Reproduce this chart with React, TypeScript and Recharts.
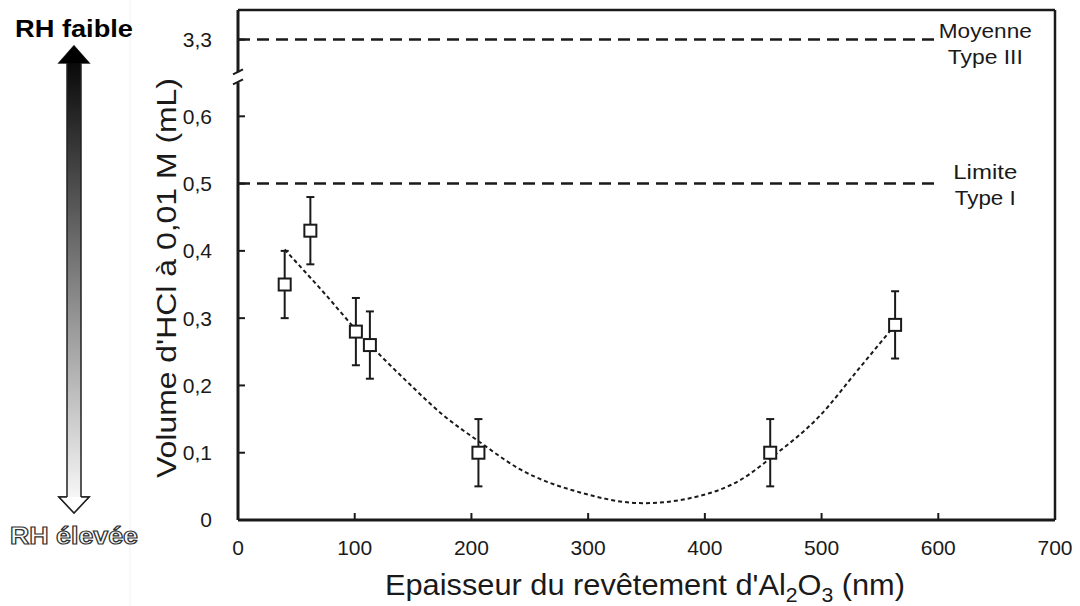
import React from 'react';
import { ComposedChart, Scatter, Line, XAxis, YAxis, ErrorBar, ReferenceLine, ReferenceDot } from 'recharts';

// mesures (épaisseur en nm, volume HCl en mL)
const thickness = [40, 62, 101, 113, 206, 456, 563];
const volume = [0.35, 0.43, 0.28, 0.26, 0.1, 0.1, 0.29];
const volumeErr = [0.05, 0.05, 0.05, 0.05, 0.05, 0.05, 0.05];

// courbe de tendance
const fitX = [40, 75, 101, 147, 175, 207, 241, 293, 347, 396, 430, 457, 498, 533, 563];
const fitY = [0.402, 0.335, 0.283, 0.202, 0.157, 0.116, 0.076, 0.041, 0.025, 0.036, 0.059, 0.093, 0.154, 0.227, 0.29];

const xTicks = [0, 100, 200, 300, 400, 500, 600, 700];
const yTicks = [0, 0.1, 0.2, 0.3, 0.4, 0.5, 0.6, 3.3];

const limitType1 = 0.5;
const meanType3 = 3.3;
const refEndX = 600;

// axe brisé : tout ce qui dépasse 0,6 est ramené dans la case au-dessus de la cassure
const BREAK_SLOT = 0.714;
const BREAK_AT = 0.658;
const Y_MAX = 0.758;
const toAxis = (v: number) => (v > 1 ? BREAK_SLOT : v);

const points = thickness.map((x, i) => ({ x, y: volume[i], err: volumeErr[i] }));
const fit = fitX.map((x, i) => ({ x, y: fitY[i] }));

const FONT = '"Liberation Sans", Arial, sans-serif';
const INK = '#1a1a1a';

const fmt = (v: number) => {
  if (v === BREAK_SLOT) return '3,3';
  if (v === 0) return '0';
  return v.toFixed(1).replace('.', ',');
};

const Square = (props: any) => {
  const { cx, cy } = props;
  return <rect x={cx - 6} y={cy - 6} width={12} height={12} fill="#fff" stroke={INK} strokeWidth={2} />;
};

const BreakMark = (props: any) => {
  const { cx, cy } = props;
  return (
    <g>
      <rect x={cx - 6} y={cy - 5} width={12} height={10} fill="#fff" />
      <line x1={cx - 5} y1={cy - 3} x2={cx + 5} y2={cy - 8} stroke={INK} strokeWidth={2} />
      <line x1={cx - 5} y1={cy + 7} x2={cx + 5} y2={cy + 2} stroke={INK} strokeWidth={2} />
    </g>
  );
};

// étiquette à deux lignes à droite des lignes pointillées
const sideLabel = (l1: string, w1: number, l2: string, w2: number, dy: number) => (p: any) => {
  const vb = p.viewBox || {};
  const cx = vb.x + vb.width + 47;
  const y = vb.y + dy;
  return (
    <g fontFamily={FONT} fontSize={20} fill={INK} textAnchor="middle">
      <text x={cx} y={y} textLength={w1} lengthAdjust="spacingAndGlyphs">{l1}</text>
      <text x={cx} y={y + 26} textLength={w2} lengthAdjust="spacingAndGlyphs">{l2}</text>
    </g>
  );
};

const YTitle = () => {
  const cy = 278;
  const cx = 176;
  return (
    <text
      x={cx}
      y={cy}
      transform={`rotate(-90 ${cx} ${cy})`}
      textAnchor="middle"
      fontFamily={FONT}
      fontSize={28}
      fill={INK}
      textLength={400}
      lengthAdjust="spacingAndGlyphs"
    >
      Volume d'HCl à 0,01 M (mL)
    </text>
  );
};

const XTitle = () => (
  <text x={645} y={595} textAnchor="middle" fontFamily={FONT} fontSize={29} fill={INK}
    textLength={520} lengthAdjust="spacingAndGlyphs">
    Epaisseur du revêtement d'Al
    <tspan fontSize={20} dy={7}>2</tspan>
    <tspan dy={-7}>O</tspan>
    <tspan fontSize={20} dy={7}>3</tspan>
    <tspan dy={-7}> (nm)</tspan>
  </text>
);

function HumidityScale() {
  return (
    <svg width={1080} height={606} style={{ position: 'absolute', left: 0, top: 0, pointerEvents: 'none' }}>
      <defs>
        <linearGradient id="rh" x1="0" y1="0" x2="0" y2="1">
          <stop offset="0%" stopColor="#000" />
          <stop offset="100%" stopColor="#fff" />
        </linearGradient>
      </defs>
      <line x1={130} y1={0} x2={130} y2={606} stroke="#f2f2f2" strokeWidth={1} />
      <text x={74} y={37} textAnchor="middle" fontFamily={FONT} fontWeight="bold" fontSize={24} fill="#000"
        textLength={118} lengthAdjust="spacingAndGlyphs">RH faible</text>
      <path d="M74 46 L89 63 L81 63 L81 497 L89 497 L74 513 L59 497 L67 497 L67 63 L59 63 Z"
        fill="url(#rh)" stroke="#222" strokeWidth={1.5} />
      <path d="M74 46 L89 63 L59 63 Z" fill="#000" />
      <path d="M81 497 L89 497 L74 513 L59 497 L67 497" fill="#fff" stroke="#222" strokeWidth={1.5} />
      <text x={74} y={544} textAnchor="middle" fontFamily={FONT} fontWeight="bold" fontSize={24} fill="#fff"
        stroke="#333" strokeWidth={1.2} textLength={128} lengthAdjust="spacingAndGlyphs">RH élevée</text>
    </svg>
  );
}

export default function App() {
  return (
    <div style={{ position: 'absolute', left: 0, top: 0, width: 1080, height: 606, background: '#fff' }}>
      <ComposedChart width={1080} height={606} margin={{ top: 10, right: 25, bottom: 26, left: 0 }}>
        <XAxis
          type="number"
          dataKey="x"
          domain={[0, 700]}
          ticks={xTicks}
          height={60}
          tickSize={-7}
          tickMargin={27}
          stroke={INK}
          strokeWidth={3}
          tick={{ fill: INK, fontSize: 21, fontFamily: FONT }}
          tickLine={{ stroke: INK, strokeWidth: 2 }}
          label={<XTitle />}
        />
        <YAxis
          type="number"
          dataKey="y"
          width={238}
          domain={[0, Y_MAX]}
          ticks={yTicks.map(toAxis)}
          tickFormatter={fmt}
          tickSize={-7}
          tickMargin={33}
          stroke={INK}
          strokeWidth={3}
          tick={{ fill: INK, fontSize: 21, fontFamily: FONT }}
          tickLine={{ stroke: INK, strokeWidth: 2 }}
          allowDataOverflow
          label={<YTitle />}
        />
        <ReferenceLine y={Y_MAX} stroke={INK} strokeWidth={2.5} ifOverflow="visible" />
        <ReferenceLine x={700} stroke={INK} strokeWidth={2.5} ifOverflow="visible" />
        <ReferenceLine
          segment={[{ x: 0, y: toAxis(meanType3) }, { x: refEndX, y: toAxis(meanType3) }]}
          stroke={INK}
          strokeWidth={2.5}
          strokeDasharray="12 7"
          label={sideLabel('Moyenne', 93, 'Type III', 75, -2)}
        />
        <ReferenceLine
          segment={[{ x: 0, y: limitType1 }, { x: refEndX, y: limitType1 }]}
          stroke={INK}
          strokeWidth={2.5}
          strokeDasharray="12 7"
          label={sideLabel('Limite', 64, 'Type I', 61, -5)}
        />
        <ReferenceDot x={0} y={BREAK_AT} r={0} shape={<BreakMark />} ifOverflow="visible" />
        <Scatter data={points} dataKey="y" shape={<Square />} isAnimationActive={false}>
          <ErrorBar dataKey="err" direction="y" width={4} stroke={INK} strokeWidth={2} />
        </Scatter>
        <Line
          data={fit}
          dataKey="y"
          type="monotone"
          stroke={INK}
          strokeWidth={2}
          strokeDasharray="4 3"
          dot={false}
          isAnimationActive={false}
        />
      </ComposedChart>
      <HumidityScale />
    </div>
  );
}
